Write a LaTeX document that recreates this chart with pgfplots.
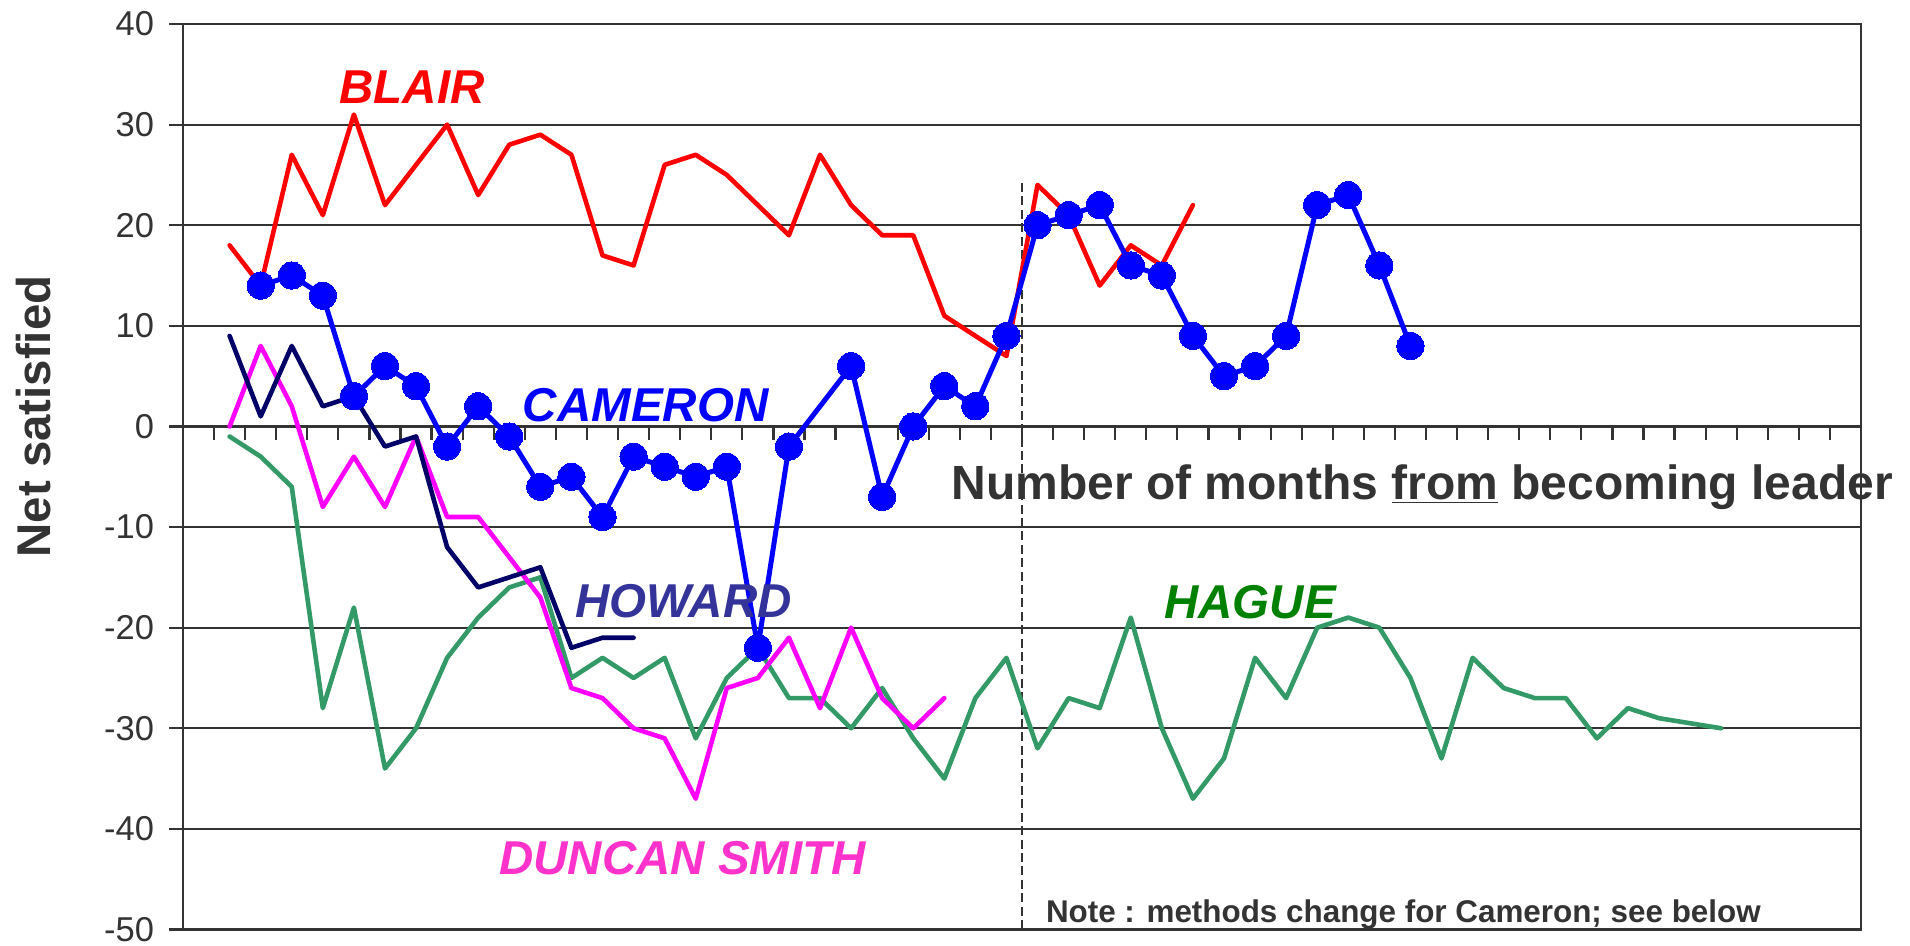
\documentclass[border=0pt]{standalone}
\usepackage{pgfplots}
\pgfplotsset{compat=1.18}
\usepackage{fontspec}
\setmainfont{Liberation Sans}
\definecolor{gridc}{HTML}{333333}
\definecolor{blairc}{HTML}{FF0000}
\definecolor{camc}{HTML}{0000FF}
\definecolor{howc}{HTML}{000066}
\definecolor{howlab}{HTML}{333399}
\definecolor{idsc}{HTML}{FF00FF}
\definecolor{idslab}{HTML}{FF33CC}
\definecolor{hagc}{HTML}{339966}
\definecolor{haglab}{HTML}{008000}
\begin{document}
\begin{tikzpicture}[x=1pt,y=1pt]
\useasboundingbox (-91.5,-8.25) rectangle (863.5,464.75);
\begin{axis}[
  at={(0,0)}, anchor=south west,
  width=839pt, height=452.75pt, scale only axis,
  xmin=0.5, xmax=54.5, ymin=-50, ymax=40,
  xtick=\empty,
  ytick={-50,-40,-30,-20,-10,0,10,20,30,40},
  yticklabels={-50,-40,-30,-20,-10,0,10,20,30,40},
  ytick pos=left,
  tick align=outside,
  major tick length=6.8pt,
  ymajorgrids,
  grid style={line width=1.1pt, color=gridc},
  axis line style={line width=1.3pt, color=gridc},
  major tick style={line width=1.1pt, color=gridc},
  yticklabel style={font=\fontsize{17.25}{17.25}\selectfont, text=gridc, inner sep=0pt, xshift=-7.5pt},
  clip=false,
]
% x axis at zero with category ticks
\draw[line width=1.3pt, gridc] (axis cs:0.5,0) -- (axis cs:54.5,0);
\pgfplotsinvokeforeach{1.5,2.5,...,53.5}{\draw[line width=1.1pt,gridc] (axis cs:#1,0) -- ++(0pt,-6.8pt);}
% dashed separator
\draw[gridc, line width=1pt, dash pattern=on 4.5pt off 2.2pt] (axis cs:27.5,24.2) -- (axis cs:27.5,-50);

% HAGUE
\addplot[color=hagc, line width=2.3pt, line join=round, line cap=round, mark=none] coordinates {
(2,-1) (3,-3) (4,-6) (5,-28) (6,-18) (7,-34) (8,-30) (9,-23) (10,-19) (11,-16)
(12,-15) (13,-25) (14,-23) (15,-25) (16,-23) (17,-31) (18,-25) (19,-22) (20,-27) (21,-27)
(22,-30) (23,-26) (24,-31) (25,-35) (26,-27) (27,-23) (28,-32) (29,-27) (30,-28) (31,-19)
(32,-30) (33,-37) (34,-33) (35,-23) (36,-27) (37,-20) (38,-19) (39,-20) (40,-25) (41,-33)
(42,-23) (43,-26) (44,-27) (45,-27) (46,-31) (47,-28) (48,-29) (50,-30)
};
% DUNCAN SMITH
\addplot[color=idsc, line width=2.3pt, line join=round, line cap=round, mark=none] coordinates {
(2,0) (3,8) (4,2) (5,-8) (6,-3) (7,-8) (8,-1) (9,-9) (10,-9) (11,-13)
(12,-17) (13,-26) (14,-27) (15,-30) (16,-31) (17,-37) (18,-26) (19,-25) (20,-21) (21,-28)
(22,-20) (23,-27) (24,-30) (25,-27)
};
% HOWARD
\addplot[color=howc, line width=2.3pt, line join=round, line cap=round, mark=none] coordinates {
(2,9) (3,1) (4,8) (5,2) (6,3) (7,-2) (8,-1) (9,-12) (10,-16) (11,-15)
(12,-14) (13,-22) (14,-21) (15,-21)
};
% BLAIR
\addplot[color=blairc, line width=2.3pt, line join=round, line cap=round, mark=none] coordinates {
(2,18) (3,14) (4,27) (5,21) (6,31) (7,22) (8,26) (9,30) (10,23) (11,28)
(12,29) (13,27) (14,17) (15,16) (16,26) (17,27) (18,25) (19,22) (20,19) (21,27)
(22,22) (23,19) (24,19) (25,11) (26,9) (27,7) (28,24) (29,21) (30,14) (31,18)
(32,16) (33,22)
};
% CAMERON
\addplot[color=camc, line width=2.5pt, line join=round, line cap=round, mark=*, mark size=6.8pt,
  mark options={solid, fill=camc, draw=camc, line width=0pt}] coordinates {
(3,14) (4,15) (5,13) (6,3) (7,6) (8,4) (9,-2) (10,2) (11,-1) (12,-6)
(13,-5) (14,-9) (15,-3) (16,-4) (17,-5) (18,-4) (19,-22) (20,-2) (22,6) (23,-7)
(24,0) (25,4) (26,2) (27,9) (28,20) (29,21) (30,22) (31,16) (32,15) (33,9)
(34,5) (35,6) (36,9) (37,22) (38,23) (39,16) (40,8)
};

% labels
\node[inner sep=0pt, text=blairc, font=\fontsize{23.75}{24}\selectfont\bfseries\itshape] at (axis cs:7.87,33.77) {BLAIR};
\node[inner sep=0pt, text=camc, font=\fontsize{23.75}{24}\selectfont\bfseries\itshape] at (axis cs:15.39,2.16) {CAMERON};
\node[inner sep=0pt, text=howlab, font=\fontsize{23.75}{24}\selectfont\bfseries\itshape] at (axis cs:16.61,-17.40) {HOWARD};
\node[inner sep=0pt, text=idslab, font=\fontsize{23.75}{24}\selectfont\bfseries\itshape] at (axis cs:16.58,-42.89) {DUNCAN SMITH};
\node[inner sep=0pt, text=haglab, font=\fontsize{23.75}{24}\selectfont\bfseries\itshape] at (axis cs:34.84,-17.43) {HAGUE};
\node[anchor=base west, inner sep=0pt, text=gridc, font=\fontsize{24}{24}\selectfont\bfseries] at (axis cs:25.22,-7.22) {Number of months \underline{from} becoming leader};
\node[anchor=base west, inner sep=0pt, text=gridc, font=\fontsize{15.7}{16}\selectfont\bfseries] at (axis cs:28.26,-49.29) {Note : methods change for Cameron; see below};
\end{axis}
\node[rotate=90, inner sep=0pt, text=gridc, font=\fontsize{23.7}{24}\selectfont\bfseries] at (-74.75,256.5) {Net satisfied};
\end{tikzpicture}
\end{document}
